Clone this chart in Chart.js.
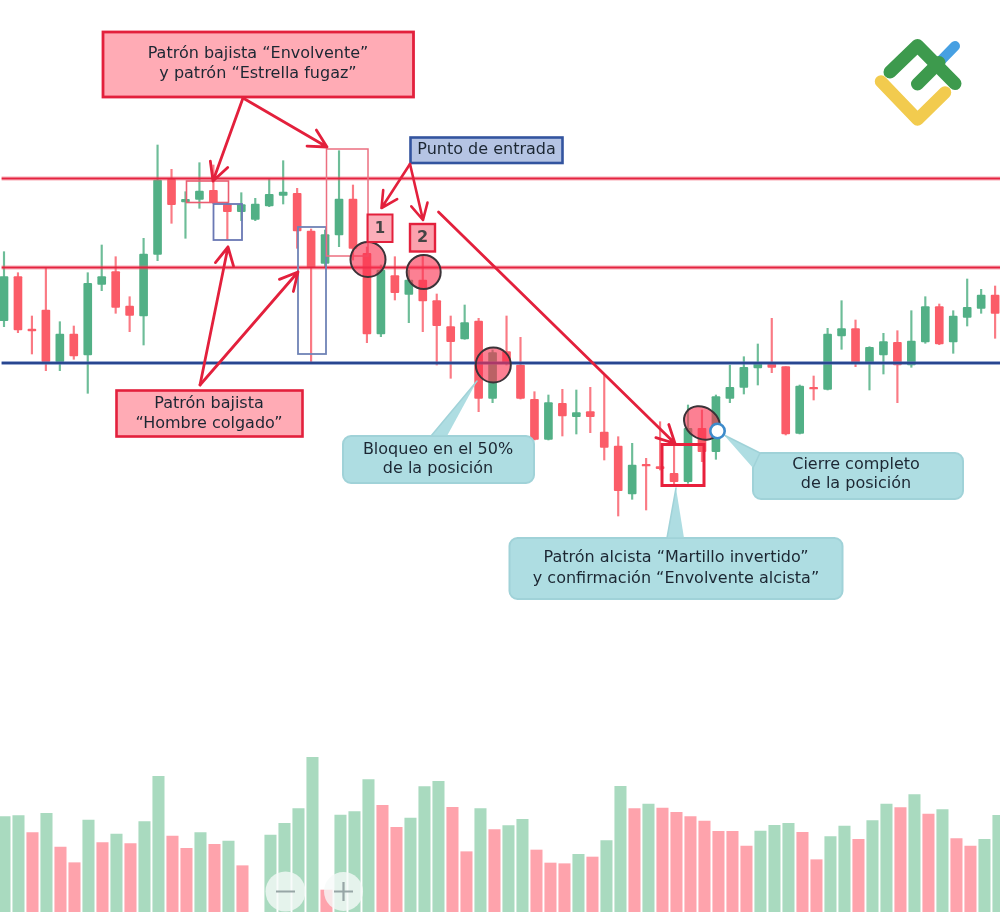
<!DOCTYPE html>
<html><head><meta charset="utf-8">
<style>html,body{margin:0;padding:0;background:#fff}canvas{display:block;filter:blur(0.45px)}</style>
<script src="https://cdn.jsdelivr.net/npm/chart.js@4"></script></head>
<body><canvas id="c" width="1000" height="912"></canvas>
<script>
const opens=[591.3,635.3,583,602,550.3,578,557,627.7,640.3,606,596,657.7,732.7,710,712.7,721.7,707.3,700.3,692.7,706,716.7,718.7,681,648.7,677,713,658.7,578,636.3,617.7,632,611.3,585.3,573,591,513.7,560.3,547,512.7,472.7,508.7,495.3,500.3,480,466,418,447.7,445.3,438.7,430.3,483.7,460.3,513.7,524.7,544,548,545.3,478.7,524.7,522.7,576,583.3,548.7,557,569.7,547,570,605.3,570,594.7,603.7,617];
const closes=[635.3,582,581,550.3,578,556,628.7,635.3,604.7,596.7,658,732,707.3,712.7,721,709.3,700.3,707.3,708,717.7,720,681,644.7,677.3,713,663.7,578,642,619.3,632,611,586.3,570.3,589.3,513.7,559.3,548.7,513.7,472.7,509.3,496,499.3,495.3,464.7,421.3,447,446,443.3,430.3,483.7,460.3,515.3,524.7,544.7,548.7,544.7,478,526,523,578,583.3,548.7,564.7,570.3,547,571,605.3,568,596,604.7,617,598.7];
const highs=[660.3,639.3,596,643.7,590.3,586,639.3,667,655.3,615.3,673.7,767,742.7,720.3,749.3,747,709.3,719.3,713.7,732.7,751.3,723.7,683,682,761.3,727,665,647,655.3,642,657,618,596,607,593.7,562,596,574.7,520.3,517,522.7,522,524.7,537,475.3,468.7,453.7,490.3,467,507,502,517,547,555.3,568,593.7,545.3,527,536,583.7,611.3,592,565.3,578.7,581.3,601.3,615.3,608,601.3,633,622.7,626];
const lows=[585.3,579.3,558,541.3,541.3,552.7,518.7,621.3,598.7,580.3,567,651.3,688.7,673.7,703.7,708.3,672,691.3,691.3,705.3,708,663.7,548.7,644.7,665.3,652,569.3,575.3,612,589.3,580.3,547,533.7,572.7,500.3,509.3,547,513,472,472,476,478,479.3,452,396,412.7,402,442,425.3,428.7,450.3,452.7,509.3,518,527,539.3,477,478,512,522,562.7,545.3,522,538,509.3,544.7,568.7,567.3,558.7,586,598.7,573.7];
const volumes=[95.3,96.3,79.3,98.7,65,49.3,92,69.3,78,68.3,90.3,135.7,76,63.7,79.3,67.7,71,46.3,null,77,88.7,103.3,154.7,22,97,100.3,132.3,106.7,84.7,94,125.3,130.7,104.7,60.3,103.3,82.3,86.3,92.7,62,49,48.3,57.7,55,71.3,125.7,103.3,108,104,99.7,95.3,91,80.7,80.7,66,81,86.7,88.7,79.7,52.3,75.3,86,72.7,91.3,108,104.3,117.3,98,102.3,73.3,66,72.7,96.7];
const volumeSides="GGRGRRGRGRGGRRGRGR-GGGGRGGGRRGGGRRGRGGRRRGRGGRGRRRRRRRGGGRRGGRGGRGRGRRGG";
const resistance=[733.5,644.5];
const support=[549];
const indices=opens.map((_,i)=>i);

const UP='#52b086',DOWN='#fb5c68',VUP='#a9dabf',VDOWN='#fea3ac';
const bodyColors=indices.map(i=>closes[i]>=opens[i]?UP:DOWN);
const wickColors=indices.map(i=>closes[i]>=opens[i]?'#6dbd98':'#fa7a84');
const FROM=-0.17,TO=71.35;
function level(v,color,width,order){return {type:'line',data:[{x:FROM,y:v},{x:TO,y:v}],borderColor:color,borderWidth:width,pointRadius:0,xAxisID:'x',yAxisID:'y',order};}

const RED='#e3203c',TEAL='#aedde2',TEALB='#a0d2d8',INK='#1c2733';
function annotations(chart){
  const g=chart.ctx;g.save();
  g.lineCap='round';g.lineJoin='round';
  const rect=(x,y,w,h,fill,stroke,lw)=>{if(fill){g.fillStyle=fill;g.fillRect(x,y,w,h);}if(stroke){g.strokeStyle=stroke;g.lineWidth=lw;g.lineJoin='miter';g.strokeRect(x,y,w,h);g.lineJoin='round';}};
  const text=(s,x,y,font,col)=>{g.font=font||'16px "DejaVu Sans"';g.fillStyle=col||INK;g.textAlign='center';g.textBaseline='middle';g.fillText(s,x,y+0.8);};
  const arrow=(x1,y1,x2,y2,lw,head,col)=>{g.strokeStyle=col||RED;g.lineWidth=lw;g.beginPath();g.moveTo(x1,y1);g.lineTo(x2,y2);
    const a=Math.atan2(y2-y1,x2-x1);
    for(const d of [-0.48,0.48]){g.moveTo(x2,y2);g.lineTo(x2-head*Math.cos(a+d),y2-head*Math.sin(a+d));}
    g.stroke();};
  const circle=(x,y,r)=>{g.beginPath();g.arc(x,y,r,0,Math.PI*2);g.fillStyle='rgba(250,50,80,0.62)';g.fill();g.strokeStyle='#3b3338';g.lineWidth=2;g.stroke();};
  const callout=(x,y,w,h,tail)=>{g.beginPath();g.roundRect(x,y,w,h,8);g.fillStyle=TEAL;g.fill();g.strokeStyle=TEALB;g.lineWidth=2;g.stroke();
    g.beginPath();g.moveTo(tail[0],tail[1]);g.lineTo(tail[2],tail[3]);g.lineTo(tail[4],tail[5]);g.closePath();g.fillStyle=TEAL;g.fill();
    g.strokeStyle=TEALB;g.lineWidth=1.5;g.beginPath();g.moveTo(tail[2],tail[3]);g.lineTo(tail[0],tail[1]);g.lineTo(tail[4],tail[5]);g.stroke();};

  // pattern frames
  rect(186.5,181,42,21.5,null,'#ea5c70',1.6);
  rect(213.5,204,28.5,36,null,'#6a78b4',1.8);
  rect(298,227,28,127,null,'#6f83b6',1.8);
  rect(326.5,149,41.5,107,null,'#ec6f80',1.5);
  rect(662,444.5,42,41,null,'#e8203c',3);

  // callouts
  callout(343,436,191,47,[431,436,477,381,447,436]);
  callout(753,453,210,46,[760,453,724,435,753,468]);
  callout(509.5,538,333,61,[667,538,676,488,684,538]);

  // circles and close marker
  circle(368,259.5,17.5);circle(423.7,272,17);circle(493.3,365,17.5);
  g.save();g.translate(702,423);g.rotate(0.6);g.beginPath();g.ellipse(0,0,19,15.5,0,0,Math.PI*2);g.fillStyle='rgba(250,50,80,0.62)';g.fill();g.strokeStyle='#3b3338';g.lineWidth=2;g.stroke();g.restore();
  g.beginPath();g.arc(717.5,431,7.2,0,Math.PI*2);g.fillStyle='#fff';g.fill();g.strokeStyle='#3d8bcb';g.lineWidth=2.6;g.stroke();

  // label boxes
  rect(103,32,310.5,65,'#ffabb5',RED,2.8);
  rect(116.5,390.5,186,46,'#ffabb5',RED,2.6);
  rect(410.5,137.5,152,25.5,'#b5c4e4','#33549f',2.6);
  rect(367.5,214.5,25,27.5,'rgba(249,140,155,0.7)',RED,2);
  rect(410,224,25,27.5,'rgba(249,130,145,0.75)',RED,2.4);

  // arrows
  arrow(243,98,213,181,2.8,20);
  arrow(243,98,327,147,2.8,20);
  arrow(200,385,228,247,2.8,20);
  arrow(200,385,298,272,2.8,20);
  arrow(410,164,381.5,208,2.6,18);
  arrow(410,164,423,220,2.6,18);
  arrow(438.5,212,675,443.5,2.8,20);

  // texts
  text('Patrón bajista “Envolvente”',258,53);
  text('y patrón “Estrella fugaz”',258,73);
  text('Patrón bajista',209,403);
  text('“Hombre colgado”',209,423);
  text('Punto de entrada',486.5,149.5);
  text('1',380,228,'bold 15px "DejaVu Sans"','#444');
  text('2',422.5,237.5,'bold 16px "DejaVu Sans"','#444');
  text('Bloqueo en el 50%',438,449.5);
  text('de la posición',438,468.5);
  text('Cierre completo',856,464);
  text('de la posición',856,483);
  text('Patrón alcista “Martillo invertido”',676,557.5);
  text('y confirmación “Envolvente alcista”',676,578);

  // logo
  const poly=(pts,col,w)=>{g.strokeStyle=col;g.lineWidth=w;g.beginPath();pts.forEach((p,i)=>i?g.lineTo(p[0],p[1]):g.moveTo(p[0],p[1]));g.stroke();};
  poly([[939,62.5],[955,46]],'#47a0e2',10);
  poly([[881,81.5],[917.5,119.5],[945,92.5]],'#f2cb4e',12.5);
  poly([[917.5,84],[939,62.5]],'#3d9a4d',13);
  poly([[890,72],[917.5,45.5],[955,83.5]],'#3d9a4d',13);

  // zoom buttons
  for(const b of [[285.5,891.5,20],[343.5,891.5,19.5]]){g.beginPath();g.arc(b[0],b[1],b[2],0,Math.PI*2);g.fillStyle='rgba(246,250,248,0.78)';g.fill();}
  g.strokeStyle='#97a6a6';g.lineWidth=2.2;g.lineCap='butt';g.beginPath();
  g.moveTo(276,891.5);g.lineTo(295,891.5);g.moveTo(334,891.5);g.lineTo(353,891.5);g.moveTo(343.5,882);g.lineTo(343.5,901);g.stroke();
  g.restore();
}

new Chart(document.getElementById('c'),{
  data:{datasets:[
    {type:'bar',xAxisID:'xv',yAxisID:'yv',order:9,grouped:false,barThickness:11.4,
     data:indices.map(i=>({x:i,y:volumes[i]})),
     backgroundColor:indices.map(i=>volumeSides[i]==='G'?VUP:VDOWN)},
    {type:'bar',xAxisID:'x',yAxisID:'y',order:8,grouped:false,barThickness:1.5,
     data:indices.map(i=>({x:i,y:[lows[i],highs[i]]})),backgroundColor:wickColors},
    {type:'bar',xAxisID:'x',yAxisID:'y',order:7,grouped:false,barThickness:8,borderRadius:1,borderSkipped:false,
     data:indices.map(i=>({x:i,y:[opens[i],closes[i]]})),backgroundColor:bodyColors},
    ...resistance.map(v=>level(v,'rgba(240,90,110,0.35)',4.6,6)),
    ...resistance.map(v=>level(v,'#e4233f',2.2,5)),
    ...support.map(v=>level(v,'rgba(110,140,200,0.45)',4,6)),
    ...support.map(v=>level(v,'#284690',2.3,5))
  ]},
  options:{
    responsive:false,animation:false,events:[],
    layout:{padding:0},
    plugins:{legend:{display:false},tooltip:{enabled:false}},
    scales:{
      x:{type:'linear',display:false,min:-0.2865,max:71.35,offset:false},
      xv:{type:'linear',display:false,min:-0.32,max:71.11,offset:false},
      y:{type:'linear',display:false,min:0,max:912},
      yv:{type:'linear',display:false,min:0,max:912}
    }
  },
  plugins:[{id:'annotations',afterDatasetsDraw:annotations}]
});
</script></body></html>
